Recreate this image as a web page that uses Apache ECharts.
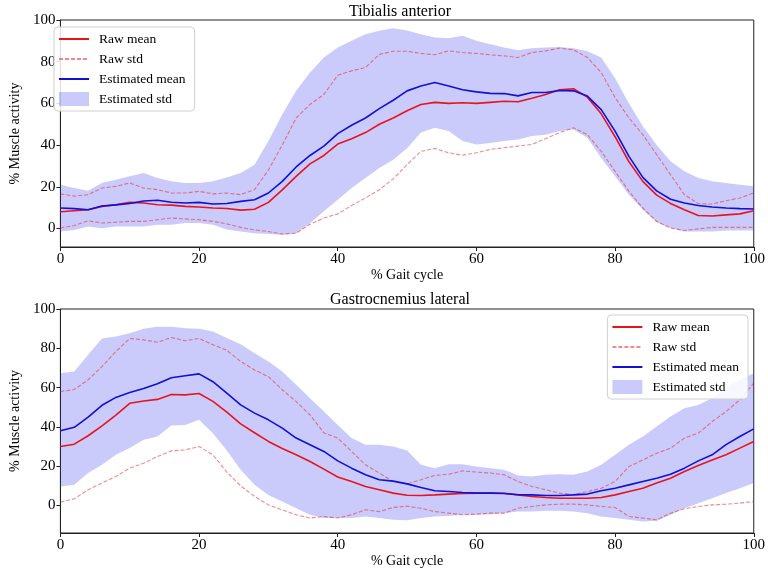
<!DOCTYPE html>
<html>
<head>
<meta charset="utf-8">
<script src="https://cdn.jsdelivr.net/npm/echarts@6/dist/echarts.min.js"></script>
<style>
    html, body { margin: 0; padding: 0; background: #fff; }
    #chart { width: 768px; height: 571px; }
</style>
</head>
<body>
<div id="chart"></div>
<script>
// % gait cycle, sampled every 2
var gait = [0, 2, 4, 6, 8, 10, 12, 14, 16, 18, 20, 22, 24, 26, 28, 30, 32, 34, 36, 38, 40, 42, 44, 46, 48, 50,
    52, 54, 56, 58, 60, 62, 64, 66, 68, 70, 72, 74, 76, 78, 80, 82, 84, 86, 88, 90, 92, 94, 96, 98, 100];

// Tibialis anterior
var taRawMean = [8, 8.5, 9, 10.6, 11.4, 12.5, 12.2, 11.4, 11.2, 10.6, 10.3, 9.8, 9.6, 8.8, 9.2, 12.5, 18.5, 25, 31, 35, 40.5, 43, 46, 50, 53, 56.5,
    59.5, 60.5, 60, 60.3, 60, 60.5, 61, 60.8, 62.5, 64.3, 66.5, 67, 63, 55, 44, 32, 22.6, 16, 12, 9, 6.2, 6, 6.5, 7, 8.5];
var taRawUp = [16.6, 15.5, 16.2, 19.4, 20.2, 21.8, 19.4, 18.6, 17, 17, 17.8, 16.6, 17, 16.2, 18.6, 28, 40, 53, 59.5, 64.3, 73.5, 75.6, 77.2, 83.5, 85, 85,
    84, 83.3, 85.2, 84.4, 84, 83.3, 82.8, 82, 84.4, 85.2, 86.5, 85.7, 82, 74.8, 62.8, 53, 45, 35.4, 25.8, 16.2, 11.9, 11.7, 13.3, 14.6, 17];
var taRawLow = [0.2, 1.4, 3.7, 2.6, 3, 3.4, 3.4, 4.2, 5, 4.6, 4.2, 3.4, 2.2, 0.5, -0.7, -1.5, -2.7, -2.3, 2, 5, 7, 11, 14.6, 18.6, 23.8, 30.6,
    37, 38.4, 36.3, 35.1, 36.3, 37.9, 38.7, 39.5, 40.3, 43.1, 46, 48.3, 45, 37, 27.4, 17.8, 9.8, 3.4, 0.2, -1, -0.2, 0.5, 0.5, 0.5, 0.5];
var taEstMean = [9.8, 9.5, 9, 10.8, 11.3, 12, 13.2, 13.5, 12.6, 12.2, 12.5, 11.7, 12, 13, 13.8, 17, 22.6, 29.5, 35, 39.5, 45.5, 49.5, 53, 57.5, 61.5, 66,
    68.3, 70, 68.3, 66.5, 65.5, 64.8, 64.7, 63.6, 65.2, 65.2, 66.2, 66, 63.5, 57, 46.7, 34.6, 24.5, 18, 14, 12.2, 11, 10.3, 9.8, 9.5, 9.3];
var taEstUp = [21, 19.4, 18.1, 21.8, 23.4, 25, 26.6, 24.2, 22.6, 21.8, 21.8, 22.6, 24.5, 26.6, 30.6, 42, 54.7, 66, 74.8, 82, 86.8, 90, 93.2, 94.8, 96, 95,
    93.2, 91.6, 91.3, 92.5, 90, 88.4, 86.8, 85.5, 86.5, 86.8, 87, 86.5, 85, 82, 72, 60, 49, 40, 32.2, 27.4, 24.2, 22.6, 21.8, 21, 20.2];
var taEstLow = [-1.5, -0.7, 0.9, 0.1, 0.9, 0.9, 0.9, 1.8, 1.8, 2.6, 2.6, 1.8, -0.5, -1.5, -2.3, -2.7, -3, -2.3, 2.5, 8.2, 13.8, 19.4, 24.2, 29, 33, 38.5,
    46, 48.3, 46.7, 41.9, 40.3, 41, 41.9, 42.7, 44.3, 45, 46.7, 47.5, 43.5, 33.8, 25, 16.2, 9, 3, 0.2, -1.5, -1.5, -1.5, -1, -1, -1];

// Gastrocnemius lateral
var glRawMean = [30, 31.2, 35.5, 40.5, 46, 52, 53.2, 54, 56.5, 56.3, 57, 53, 47.5, 41.5, 37, 32.6, 29, 25.8, 22.4, 18.5, 14.5, 12.2, 9.7, 8, 6.3, 5.2,
    5.1, 5.4, 5.8, 6.1, 6.3, 6.3, 6.2, 5.4, 4.6, 4.1, 3.7, 3.7, 3.7, 4.1, 5.4, 7.1, 8.8, 11.4, 13.9, 17.3, 20.4, 23.2, 25.8, 29.2, 32.6];
var glRawUp = [58, 59, 64, 70.7, 78.4, 85, 84.3, 83.1, 85.5, 83.8, 85, 81.8, 79, 73.3, 69, 65.6, 58.9, 52.9, 46.1, 37, 34.3, 27.5, 20.7, 16.5, 12.2, 11,
    13.1, 15.3, 15.9, 17.6, 17, 16.5, 15.6, 12.2, 9.7, 8, 6.3, 5.6, 7.1, 8.8, 12.2, 19.8, 23.2, 26.6, 29.2, 34.3, 36.8, 42.7, 47.8, 53.8, 62.3];
var glRawLow = [1.7, 3.4, 8, 11.4, 14.8, 19, 21.5, 24.9, 27.8, 28.3, 30, 25.8, 17, 10, 4.6, 0.3, -2.2, -4.7, -6.4, -5.6, -6.4, -4.7, -2.2, -3.1, -1, -0.4,
    -1.4, -3.1, -3.9, -4.7, -4.4, -3.9, -3.9, -1.4, -0.5, 0.3, 0.7, 0.7, 0.3, -0.5, -1, -5.6, -6.4, -7.3, -3.9, -1.7, -0.5, 0.3, 0.7, 1.2, 2];
var glEstMean = [38, 39.8, 45, 51, 55, 57.5, 59.5, 62, 65, 66, 67, 63, 57.2, 51.2, 47, 43.6, 39.4, 34.3, 30.9, 27.5, 22.7, 19, 15.6, 13.1, 12.4, 11,
    9.2, 7.5, 7.1, 6.6, 6.3, 6.3, 6.1, 5.5, 5.4, 5.1, 5.1, 5.4, 5.8, 7.5, 8.8, 10.5, 12.2, 13.9, 15.9, 19, 22.7, 25.8, 31, 35.1, 39];
var glEstUp = [67.3, 68.2, 76.7, 85, 86, 87.7, 90, 91, 91, 90.2, 90, 88.5, 85.2, 82, 77.5, 73.3, 68.2, 61.4, 54.6, 47.8, 41, 34.3, 30.9, 30.9, 30, 28,
    20.7, 19, 21, 21, 19.8, 19, 18.2, 15.3, 14.8, 15.6, 15.9, 15.6, 17.3, 20.7, 25.8, 30.9, 35.1, 40.2, 45.3, 49.5, 51.2, 54.6, 59.7, 64, 67.3];
var glEstLow = [9.7, 10.5, 16.5, 20.7, 25.8, 29.2, 33.4, 35.1, 40.7, 41, 43.6, 36.8, 28, 18.2, 10.5, 5.4, 2, -1.4, -4.7, -6.4, -6.4, -6.4, -5.6, -6.4, -7.3, -7.5,
    -6.4, -5.6, -5.3, -4.7, -4.7, -4.4, -3.9, -3.1, -3.1, -2.7, -2.7, -3.1, -3.9, -5.6, -6.4, -7.3, -8.1, -7.8, -4.7, -1.4, 1.2, 3.7, 6.3, 8.8, 11.4];

var yTicks = [0, 20, 40, 60, 80, 100];

var FONT = 'Liberation Serif';
var RED = '#e8141c';
var BLUE = '#1010d8';
var RED_LIGHT = 'rgba(230,40,40,0.55)';
var BAND = 'rgba(60,60,240,0.27)';

function extend(target) {
    for (var i = 1; i < arguments.length; i++) {
        for (var k in arguments[i]) { target[k] = arguments[i][k]; }
    }
    return target;
}

function pairs(vals) {
    return gait.map(function (x, i) { return [x, vals[i]]; });
}

// filled band between low and up, drawn as one polygon through the axis scales
function bandSeries(idx, up, low) {
    return {
        type: 'custom', name: 'Estimated std', xAxisIndex: idx, yAxisIndex: idx,
        silent: true, animation: false, z: 1,
        itemStyle: { color: BAND },
        data: gait.map(function (x, i) { return [x, low[i], up[i]]; }),
        encode: { x: 0, y: [1, 2] },
        renderItem: function (params, api) {
            if (params.dataIndex !== 0) return;
            var pts = [];
            for (var i = 0; i < gait.length; i++) pts.push(api.coord([gait[i], up[i]]));
            for (var j = gait.length - 1; j >= 0; j--) pts.push(api.coord([gait[j], low[j]]));
            return { type: 'polygon', shape: { points: pts }, style: { fill: BAND } };
        }
    };
}

function panelSeries(idx, rawMean, rawUp, rawLow, estMean, estUp, estLow) {
    var base = { type: 'line', xAxisIndex: idx, yAxisIndex: idx, symbol: 'none', silent: true, animation: false, z: 2 };
    return [
        bandSeries(idx, estUp, estLow),
        extend({}, base, {
            name: 'Raw std', data: pairs(rawUp),
            lineStyle: { color: RED_LIGHT, width: 1.1, type: [4, 2] }, itemStyle: { color: RED_LIGHT }
        }),
        extend({}, base, {
            name: 'Raw std', data: pairs(rawLow),
            lineStyle: { color: RED_LIGHT, width: 1.1, type: [4, 2] }, itemStyle: { color: RED_LIGHT }
        }),
        extend({}, base, {
            name: 'Raw mean', data: pairs(rawMean),
            lineStyle: { color: RED, width: 1.6 }, itemStyle: { color: RED }
        }),
        extend({}, base, {
            name: 'Estimated mean', data: pairs(estMean),
            lineStyle: { color: BLUE, width: 1.6 }, itemStyle: { color: BLUE }
        })
    ];
}

function xAxis(idx) {
    return {
        type: 'value', gridIndex: idx, min: 0, max: 100, interval: 20,
        name: '% Gait cycle', nameLocation: 'middle', nameGap: 18,
        nameTextStyle: { fontFamily: FONT, fontSize: 14, color: '#000' },
        axisLine: { show: true, onZero: false, lineStyle: { color: '#222', width: 1 } },
        axisTick: { show: true, inside: false, length: 4, lineStyle: { color: '#222' } },
        axisLabel: { fontFamily: FONT, fontSize: 15, color: '#000', margin: 5 },
        splitLine: { show: false }
    };
}

function yAxis(idx, min) {
    return {
        type: 'value', gridIndex: idx, min: min, max: 100,
        name: '% Muscle activity', nameLocation: 'middle', nameGap: 33,
        nameTextStyle: { fontFamily: FONT, fontSize: 14, color: '#000' },
        axisLine: { show: true, onZero: false, lineStyle: { color: '#222', width: 1 } },
        axisTick: { show: true, length: 4, lineStyle: { color: '#222' }, customValues: yTicks },
        axisLabel: { fontFamily: FONT, fontSize: 15, color: '#000', margin: 5, customValues: yTicks },
        splitLine: { show: false }
    };
}

function legend(pos) {
    var hideDot = { opacity: 0 };
    return extend({
        orient: 'vertical', padding: [5, 9, 5, 4], itemGap: 6, itemWidth: 30, itemHeight: 14,
        backgroundColor: 'rgba(255,255,255,0.85)', borderColor: '#d0d0d0', borderWidth: 1, borderRadius: 4,
        textStyle: { fontFamily: FONT, fontSize: 13.5, color: '#000', padding: [0, 0, 0, 5] },
        selectedMode: false,
        data: [
            { name: 'Raw mean', itemStyle: hideDot },
            { name: 'Raw std', itemStyle: hideDot },
            { name: 'Estimated mean', itemStyle: hideDot },
            { name: 'Estimated std', icon: 'rect', itemStyle: { color: BAND } }
        ]
    }, pos);
}

var chart = echarts.init(document.getElementById('chart'), null, { renderer: 'canvas' });
chart.setOption({
    backgroundColor: '#fff',
    animation: false,
    title: [
        { text: 'Tibialis anterior', left: 400, top: 4, textAlign: 'center', padding: 0,
            textStyle: { fontFamily: FONT, fontSize: 16, fontWeight: 'normal', color: '#000' } },
        { text: 'Gastrocnemius lateral', left: 400, top: 292, textAlign: 'center', padding: 0,
            textStyle: { fontFamily: FONT, fontSize: 16, fontWeight: 'normal', color: '#000' } }
    ],
    grid: [
        { left: 47, right: 14, top: 20, height: 227, show: true, borderColor: '#222', borderWidth: 1, backgroundColor: 'transparent' },
        { left: 47, right: 14, top: 309, height: 224, show: true, borderColor: '#222', borderWidth: 1, backgroundColor: 'transparent' }
    ],
    legend: [
        legend({ left: 54, top: 27 }),
        legend({ right: 20, top: 315 })
    ],
    xAxis: [xAxis(0), xAxis(1)],
    yAxis: [yAxis(0, -8.9), yAxis(1, -14)],
    series: panelSeries(0, taRawMean, taRawUp, taRawLow, taEstMean, taEstUp, taEstLow)
        .concat(panelSeries(1, glRawMean, glRawUp, glRawLow, glEstMean, glEstUp, glEstLow))
});
</script>
</body>
</html>
